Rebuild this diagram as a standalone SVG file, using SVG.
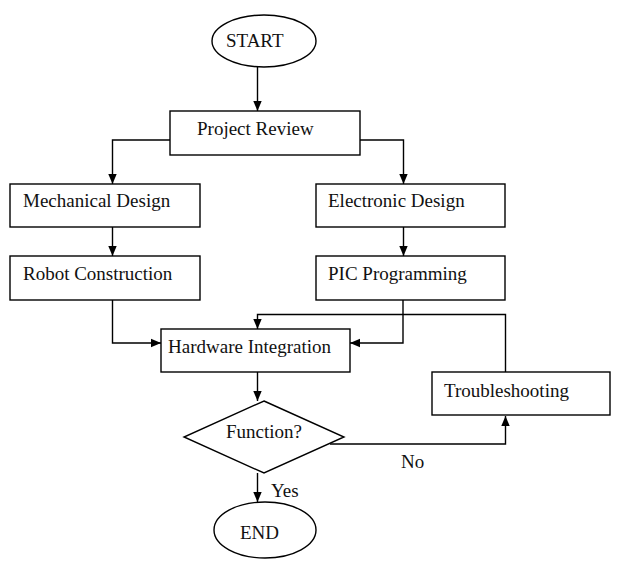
<svg xmlns="http://www.w3.org/2000/svg" width="617" height="561" viewBox="0 0 617 561">
<defs>
<marker id="ah" markerUnits="userSpaceOnUse" markerWidth="10" markerHeight="10" viewBox="0 0 10 10" refX="10" refY="5" orient="auto">
<path d="M0,0.8 L10,5 L0,9.2 Z" fill="#000"/>
</marker>
<style>
.s{fill:#fff;stroke:#000;stroke-width:1.4}
.t{font-family:"Liberation Serif","Times New Roman",serif;font-size:19px;fill:#111}
.c{fill:none;stroke:#000;stroke-width:1.4}
</style>
</defs>
<rect width="617" height="561" fill="#fff"/>
<g id="connectors">
<path class="c" d="M257.5 67 V111" marker-end="url(#ah)"/>
<path class="c" d="M170 140 H112.5 V184" marker-end="url(#ah)"/>
<path class="c" d="M360 140 H403.5 V184" marker-end="url(#ah)"/>
<path class="c" d="M112.5 227 V256" marker-end="url(#ah)"/>
<path class="c" d="M403.5 227 V256" marker-end="url(#ah)"/>
<path class="c" d="M112.5 300 V343 H161" marker-end="url(#ah)"/>
<path class="c" d="M403 300 V343 H350" marker-end="url(#ah)"/>
<path class="c" d="M505.5 372 V314.5 H257.5 V329" marker-end="url(#ah)"/>
<path class="c" d="M257.5 372 V401" marker-end="url(#ah)"/>
<path class="c" d="M330 444 H505.5 V416" marker-end="url(#ah)"/>
<path class="c" d="M257.5 473 V502" marker-end="url(#ah)"/>
</g>
<g id="start"><ellipse class="s" cx="264" cy="41" rx="52" ry="26"/><text class="t" x="226" y="47">START</text></g>
<g id="project-review"><rect class="s" x="170" y="111" width="190" height="44"/><text class="t" x="197" y="135">Project Review</text></g>
<g id="mechanical-design"><rect class="s" x="10" y="184" width="190" height="43"/><text class="t" x="23" y="207">Mechanical Design</text></g>
<g id="electronic-design"><rect class="s" x="316" y="184" width="189" height="43"/><text class="t" x="328" y="207">Electronic Design</text></g>
<g id="robot-construction"><rect class="s" x="10" y="256" width="190" height="44"/><text class="t" x="23" y="280">Robot Construction</text></g>
<g id="pic-programming"><rect class="s" x="316" y="256" width="189" height="44"/><text class="t" x="328" y="280">PIC Programming</text></g>
<g id="hardware-integration"><rect class="s" x="161" y="329" width="189" height="43"/><text class="t" x="168" y="353">Hardware Integration</text></g>
<g id="troubleshooting"><rect class="s" x="432" y="372" width="178" height="43"/><text class="t" x="444" y="397">Troubleshooting</text></g>
<g id="function"><polygon class="s" points="264,401 344,437 264,473 184,437"/><text class="t" x="226" y="438">Function?</text></g>
<g id="end"><ellipse class="s" cx="265" cy="530" rx="51" ry="28"/><text class="t" x="240" y="539">END</text></g>
<g id="labels"><text class="t" x="401" y="468">No</text><text class="t" x="271" y="497">Yes</text></g>
</svg>
